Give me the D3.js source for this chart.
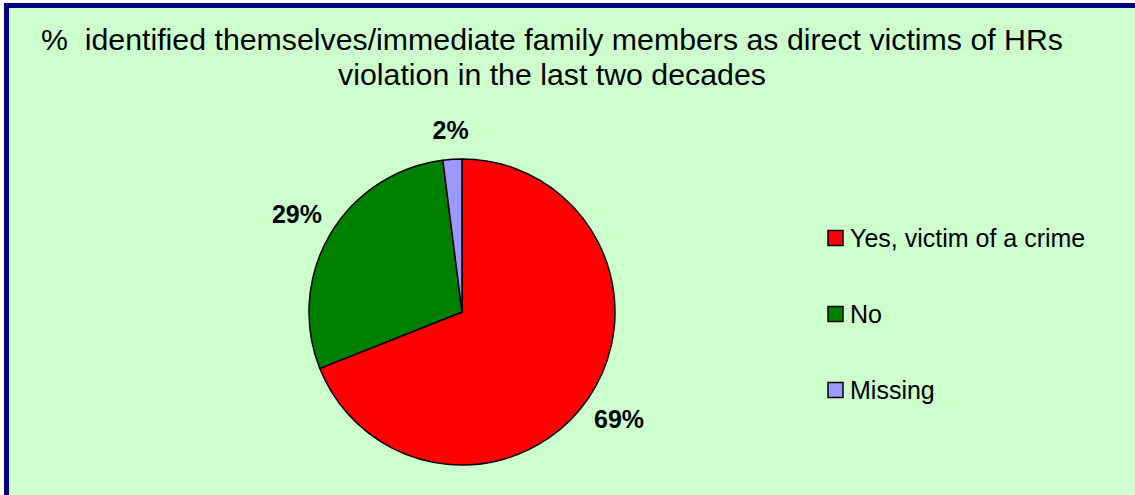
<!DOCTYPE html>
<html lang="en">
<head>
<meta charset="UTF-8">
<title>Direct victims of HRs violation</title>
<style>
    body { margin: 0; background: #fff; }
    svg { display: block; font-family: "Liberation Sans", Arial, sans-serif; }
    .title { font-size: 30.3px; fill: #000; white-space: pre; }
    .pct { font-size: 25px; font-weight: bold; fill: #000; }
    .legend text { font-size: 25px; fill: #000; }
</style>
</head>
<body>
<div id="chart"></div>
<script src="https://d3js.org/d3.v7.min.js"></script>
<script>
    // data
    const categories = ["Yes, victim of a crime", "No", "Missing"];
    const values = [69, 29, 2];
    const colors = ["#FF0000", "#008000", "#9999FF"];
    const titleLines = [
        "%  identified themselves/immediate family members as direct victims of HRs",
        "violation in the last two decades"
    ];

    const width = 1135, height = 495;

    const svg = d3.select("#chart").append("svg")
        .attr("width", width)
        .attr("height", height);

    // frame: navy border on top/left, chart area runs off the right and bottom
    svg.append("rect")
        .attr("x", 4).attr("y", 3)
        .attr("width", width).attr("height", height)
        .attr("fill", "#000080");
    svg.append("rect")
        .attr("x", 9).attr("y", 8)
        .attr("width", width).attr("height", height)
        .attr("fill", "#CCFFCC");

    // title
    svg.selectAll(".title")
        .data(titleLines)
        .enter().append("text")
        .attr("class", "title")
        .attr("x", 552)
        .attr("y", (d, i) => 50 + i * 35)
        .attr("text-anchor", "middle")
        .text(d => d);

    // pie
    const cx = 462, cy = 312, r = 153;
    const data = categories.map((c, i) => ({ name: c, value: values[i], color: colors[i] }));
    const pie = d3.pie().value(d => d.value).sort(null);
    const arcs = pie(data);
    const arc = d3.arc().innerRadius(0).outerRadius(r);

    const g = svg.append("g").attr("transform", `translate(${cx},${cy})`);

    g.selectAll("path")
        .data(arcs)
        .enter().append("path")
        .attr("d", arc)
        .attr("fill", d => d.data.color)
        .attr("stroke", "#000")
        .attr("stroke-width", 1.5)
        .attr("stroke-linejoin", "round");

    // percentage labels, pushed outside the rim by their own box size
    const labelR = 172;
    g.selectAll(".pct")
        .data(arcs)
        .enter().append("text")
        .attr("class", "pct")
        .attr("text-anchor", "middle")
        .attr("dominant-baseline", "central")
        .text(d => d.data.value + "%")
        .each(function(d) {
            const bb = this.getBBox();
            const h = bb.height * 0.72;
            const a = (d.startAngle + d.endAngle) / 2;
            const ux = Math.sin(a), uy = -Math.cos(a);
            const ext = Math.min(
                Math.abs(ux) > 1e-6 ? bb.width / 2 / Math.abs(ux) : Infinity,
                Math.abs(uy) > 1e-6 ? h / 2 / Math.abs(uy) : Infinity
            );
            const dist = labelR + ext;
            d3.select(this).attr("x", ux * dist).attr("y", uy * dist);
        });

    // legend
    const legend = svg.selectAll(".legend")
        .data(data)
        .enter().append("g")
        .attr("class", "legend")
        .attr("transform", (d, i) => `translate(828,${238 + i * 76})`);

    legend.append("rect")
        .attr("x", 0).attr("y", -7.5)
        .attr("width", 15).attr("height", 15)
        .attr("fill", d => d.color)
        .attr("stroke", "#000")
        .attr("stroke-width", 1.5);

    legend.append("text")
        .attr("x", 22)
        .attr("y", 0)
        .attr("dominant-baseline", "central")
        .text(d => d.name);
</script>
</body>
</html>
